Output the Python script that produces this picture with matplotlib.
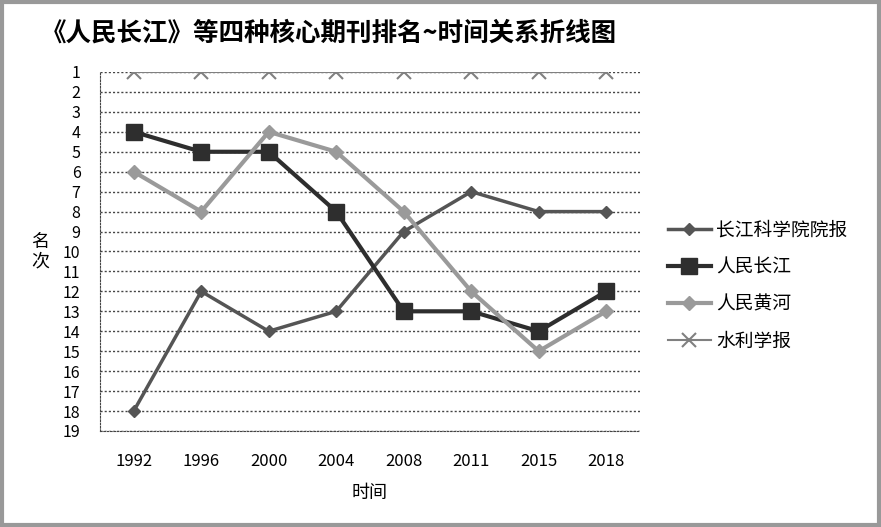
import matplotlib
matplotlib.use("Agg")
import matplotlib.pyplot as plt
from matplotlib.patches import Rectangle

plt.rcParams['font.family'] = ['Noto Sans CJK SC', 'DejaVu Sans']

years = ["1992", "1996", "2000", "2004", "2008", "2011", "2015", "2018"]
series_names = ["长江科学院院报", "人民长江", "人民黄河", "水利学报"]
cjkx = [18, 12, 14, 13, 9, 7, 8, 8]
rmcj = [4, 5, 5, 8, 13, 13, 14, 12]
rmhh = [6, 8, 4, 5, 8, 12, 15, 13]
slxb = [1, 1, 1, 1, 1, 1, 1, 1]
y_ticks = list(range(1, 20))

fig = plt.figure(figsize=(8.81, 5.27), dpi=100)
ax = fig.add_axes([0.1135, 0.1822, 0.6129, 0.6812])

x = list(range(len(years)))
styles = [
    dict(color="#555555", lw=2.5, marker="D", ms=6),
    dict(color="#2e2e2e", lw=3.0, marker="s", ms=11),
    dict(color="#9a9a9a", lw=3.0, marker="D", ms=7),
    dict(color="#808080", lw=1.5, marker="x", ms=10, mew=1.5),
]
for name, vals, st in zip(series_names, [cjkx, rmcj, rmhh, slxb], styles):
    ax.plot(x, vals, label=name, zorder=3, **st)

ax.set_xlim(-0.5, len(years) - 0.5)
ax.set_ylim(19, 1)
ax.set_yticks(y_ticks)
ax.set_yticklabels([str(v) for v in y_ticks], fontsize=11.5)
ax.set_xticks(x)
ax.set_xticklabels(years, fontsize=12)
ax.tick_params(axis='y', length=0, pad=14)
ax.tick_params(axis='x', length=0, pad=16)
ax.yaxis.grid(True, linestyle=(0, (1.5, 1.5)), color="#444444", lw=1.0)
for s in ["top", "right"]:
    ax.spines[s].set_visible(False)
ax.spines["left"].set_linestyle((0, (1.5, 1.5)))
ax.spines["left"].set_color("#444444")
ax.spines["bottom"].set_linestyle((0, (1.5, 1.5)))
ax.spines["bottom"].set_color("#444444")

ax.set_xlabel("时间", fontsize=13, labelpad=10)
ax.set_ylabel("名\n次", fontsize=13, rotation=0, labelpad=16, va="center", linespacing=1.1)

fig.text(0.373, 0.938, "《人民长江》等四种核心期刊排名~时间关系折线图", fontsize=18.4,
         ha="center", va="center", fontweight="bold")

leg = ax.legend(loc="center left", bbox_to_anchor=(1.02, 0.405), frameon=False,
                fontsize=13.5, handlelength=2.3, labelspacing=0.85, handletextpad=0.3)

fig.patches.append(Rectangle((0.002, 0.003), 0.996, 0.994, transform=fig.transFigure,
                             fill=False, edgecolor="#999999", lw=3))

fig.savefig("out.png", dpi=100)
